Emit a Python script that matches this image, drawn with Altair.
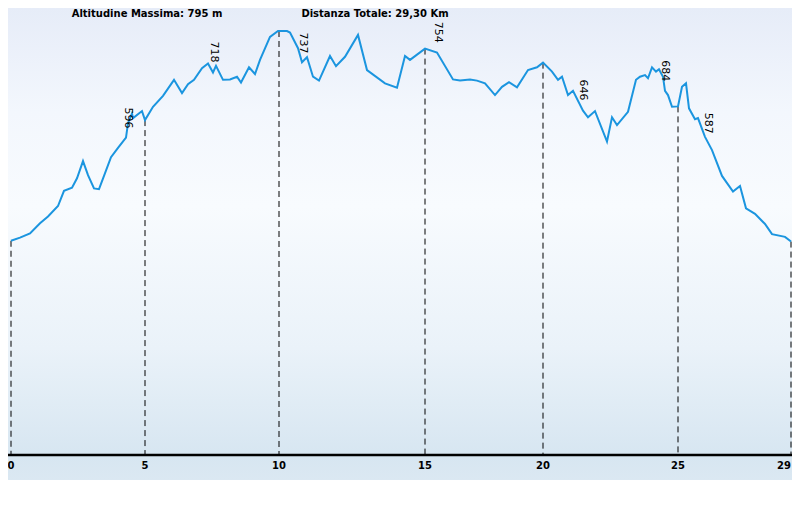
import altair as alt
import pandas as pd
import numpy as np

# Profile: sample position (progressive index along track) and elevation (m)
prof_pos = [0, 9, 19, 29, 37, 47, 53, 61, 66, 72, 77, 83, 88, 93, 100, 107, 115, 117, 121, 122,
            131, 134, 142, 152, 163, 171, 177, 183, 191, 197, 202, 205, 212, 219, 226, 230, 238, 244,
            249, 259, 267, 276, 279, 287, 291, 296, 302, 308, 319, 325, 334, 347, 356, 374, 386, 394,
            399, 414, 426, 442, 449, 459, 466, 474, 484, 491, 498, 506, 517, 526, 532, 541, 547, 551,
            557, 562, 572, 577, 584, 596, 601, 606, 617, 625, 629, 634, 637, 641, 645, 648, 652, 654,
            657, 661, 667, 671, 675, 678, 684, 687, 694, 701, 711, 722, 729, 735, 744, 754, 761, 774, 780]
prof_elev = [258, 266, 277, 303, 320, 347, 386, 394, 418, 462, 426, 392, 390, 424, 472, 496, 522, 559, 584, 572,
             590, 567, 601, 629, 670, 636, 659, 670, 700, 712, 689, 706, 670, 671, 678, 663, 702, 685,
             721, 780, 795, 795, 791, 751, 715, 728, 678, 668, 731, 705, 729, 785, 695, 661, 650, 731,
             721, 750, 740, 671, 668, 671, 668, 661, 631, 652, 664, 651, 695, 702, 714, 691, 670, 678,
             631, 642, 591, 574, 590, 512, 574, 554, 588, 670, 678, 682, 674, 702, 691, 697, 678, 642,
             631, 601, 602, 652, 661, 597, 569, 572, 524, 490, 424, 384, 398, 341, 327, 301, 275, 268, 256]

# Kilometre markers
km_labels = ["0", "5", "10", "15", "20", "25", "29"]
km_pos = [0, 134, 268, 414, 532, 667, 780]

# Waypoint elevation labels
wp_text = ["596", "718", "737", "754", "646", "684", "587"]
wp_pos = [117, 203, 292, 427, 572, 654, 697]
wp_anchor = [572, 741, 764, 792, 644, 693, 559]

header_left = "Altitudine Massima: 795 m"
header_right = "Distanza Totale: 29,30 Km"

Y_MIN, Y_MAX = -290.44, 833.4
X_MIN, X_MAX = -3, 781
W, H = 784, 439

prof = pd.DataFrame({"pos": prof_pos, "quota": prof_elev})
marks = pd.DataFrame({
    "pos": km_pos,
    "km": km_labels,
    "quota": np.interp(km_pos, prof_pos, prof_elev),
})
wp = pd.DataFrame({"pos": wp_pos, "t": wp_text, "quota": wp_anchor})

xs = alt.Scale(domain=[X_MIN, X_MAX], nice=False, zero=False)
ys = alt.Scale(domain=[Y_MIN, Y_MAX], nice=False, zero=False)

one = pd.DataFrame({"a": [0]})

bg = alt.Chart(one).mark_rect(
    color=alt.Gradient(
        gradient="linear",
        stops=[
            alt.GradientStop(color="#e6ecf8", offset=0),
            alt.GradientStop(color="#f3f7fd", offset=0.22),
            alt.GradientStop(color="#f8fbfe", offset=0.42),
            alt.GradientStop(color="#eaf2f9", offset=0.72),
            alt.GradientStop(color="#d7e6f1", offset=0.95),
            alt.GradientStop(color="#dbe8f2", offset=1),
        ],
        x1=0, x2=0, y1=0, y2=1,
    )
).encode(x=alt.value(0), x2=alt.value(W), y=alt.value(-8), y2=alt.value(464))

rules = alt.Chart(marks).mark_rule(
    color="#000000", strokeWidth=1, strokeDash=[6, 4]
).encode(
    x=alt.X("pos:Q", scale=xs, axis=None),
    y=alt.Y("quota:Q", scale=ys, axis=None),
    y2=alt.value(H),
)

base_line = alt.Chart(one).mark_rule(color="#000000", strokeWidth=2.5).encode(
    x=alt.value(0), x2=alt.value(W), y=alt.value(H)
)

line = alt.Chart(prof).mark_line(color="#1b95df", strokeWidth=2).encode(
    x=alt.X("pos:Q", scale=xs, axis=None),
    y=alt.Y("quota:Q", scale=ys, axis=None),
)

wp_txt = alt.Chart(wp).mark_text(
    angle=90, align="center", baseline="middle", font="DejaVu Sans",
    fontSize=11, color="#000000"
).encode(
    x=alt.X("pos:Q", scale=xs),
    y=alt.Y("quota:Q", scale=ys),
    text="t:N",
)

km_style = dict(baseline="middle", font="DejaVu Sans", fontWeight="bold",
                fontSize=10, color="#000000")

km_txt = alt.Chart(marks.iloc[:-1]).mark_text(align="center", **km_style).encode(
    x=alt.X("pos:Q", scale=xs),
    y=alt.value(H + 11),
    text="km:N",
)

km_last = alt.Chart(marks.iloc[-1:]).mark_text(align="right", **km_style).encode(
    x=alt.X("pos:Q", scale=xs),
    y=alt.value(H + 11),
    text="km:N",
)

hdr_style = dict(align="center", baseline="top", font="DejaVu Sans", fontWeight="bold",
                 fontSize=10, color="#000000")

hdr_l = alt.Chart(one).mark_text(text=header_left, **hdr_style).encode(
    x=alt.value(139), y=alt.value(-7))

hdr_r = alt.Chart(one).mark_text(text=header_right, **hdr_style).encode(
    x=alt.value(367), y=alt.value(-7))

chart = alt.layer(bg, rules, base_line, line, wp_txt, km_txt, km_last, hdr_l, hdr_r).properties(
    width=W, height=H,
    autosize=alt.AutoSizeParams(type="none"),
    padding={"left": 0, "top": 8, "right": 0, "bottom": 40},
).configure_view(stroke=None).configure(background="#ffffff")

chart.save("out.html", embed_options={"renderer": "svg", "actions": False})
